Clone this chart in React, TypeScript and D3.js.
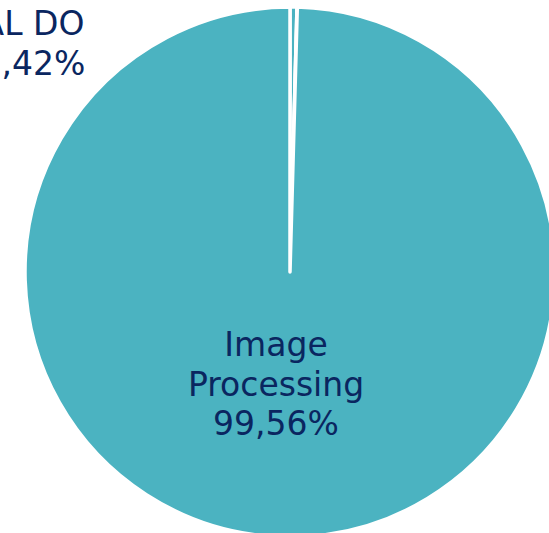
import React from "react";
import * as d3 from "d3";

const categories = ["AL DO", "Outros", "Image Processing"];
const values = [0.42, 0.02, 99.56];
const labelLines = [["AL DO", "0,42%"], [], ["Image", "Processing", "99,56%"]];

const W = 549;
const H = 533;
const cx = 290;
const cy = 272;
const R = 265;
const TEAL = "#4BB3C1";
const NAVY = "#0A2660";

export default function App() {
  const pie = d3.pie<number>().sort(null).value((d) => d).startAngle(0).endAngle(2 * Math.PI);
  const arcs = pie(values);
  const arc = d3.arc<d3.PieArcDatum<number>>().innerRadius(0).outerRadius(R);
  const fontSize = 33;
  const lineH = 39.5;
  const labelPos: ([number, number] | null)[] = [
    [33 - cx, 35 - cy],
    null,
    [276 - cx, 356 - cy],
  ];
  return (
    <svg width={W} height={H} style={{ position: "absolute", left: 0, top: 0, background: "#fff" }}>
      <g transform={`translate(${cx},${cy})`}>
        {arcs.map((a, i) => (
          <path key={categories[i]} d={arc(a) || ""} fill={TEAL} stroke="#fff" strokeWidth={3.5} strokeLinejoin="round" />
        ))}
        {arcs.map((a, i) => {
          const p = labelPos[i];
          if (!p) return null;
          return (
            <text key={"l" + i} x={p[0]} y={p[1]} textAnchor="middle" fontFamily="'DejaVu Sans', Verdana, sans-serif" fontSize={fontSize} fill={NAVY}>
              {labelLines[i].map((t, j) => (
                <tspan key={j} x={p[0]} dy={j === 0 ? 0 : lineH}>{t}</tspan>
              ))}
            </text>
          );
        })}
      </g>
    </svg>
  );
}
